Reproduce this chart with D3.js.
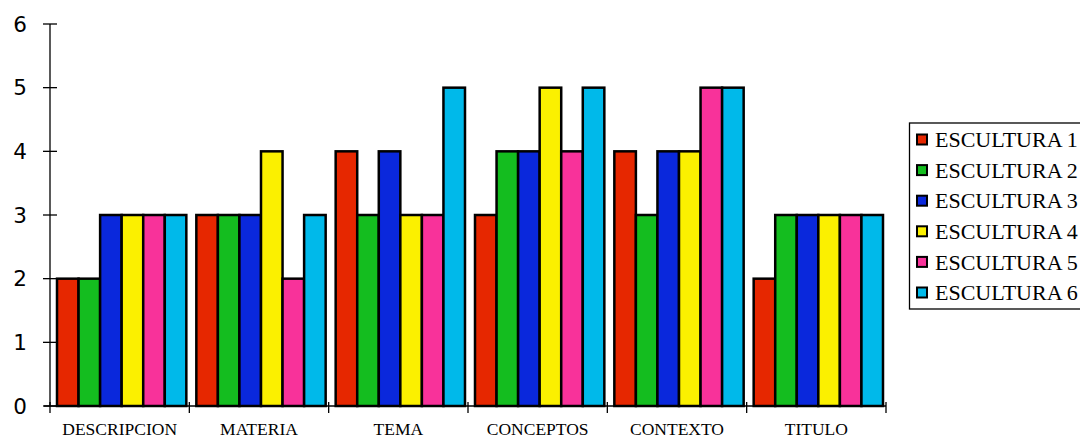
<!DOCTYPE html>
<html><head><meta charset="utf-8">
<script src="https://cdn.jsdelivr.net/npm/d3@7"></script>
<style>body{margin:0;background:#fff}svg{display:block}</style>
</head><body>
<script>
const categories = ["DESCRIPCION","MATERIA","TEMA","CONCEPTOS","CONTEXTO","TITULO"];
const seriesNames = ["ESCULTURA 1","ESCULTURA 2","ESCULTURA 3","ESCULTURA 4","ESCULTURA 5","ESCULTURA 6"];
const escultura1 = [2,3,4,3,4,2];
const escultura2 = [2,3,3,4,3,3];
const escultura3 = [3,3,4,4,4,3];
const escultura4 = [3,4,3,5,4,3];
const escultura5 = [3,2,3,4,5,3];
const escultura6 = [3,3,5,5,5,3];
const yTicks = [0,1,2,3,4,5,6];
const colors = ["#e62700","#14bd1f","#0a28dc","#fbf000","#f8329a","#00b9ea"];

const series = [escultura1,escultura2,escultura3,escultura4,escultura5,escultura6];
const W=1080,H=441;
const svg=d3.select("body").append("svg").attr("width",W).attr("height",H);
const x0=d3.scaleBand().domain(categories).range([50,886]).padding(0);
const x1=d3.scaleBand().domain(d3.range(6)).range([7,x0.bandwidth()-3]).padding(0);
const y=d3.scaleLinear().domain([0,6]).range([406,24]);

categories.forEach((c,ci)=>{
  const g=svg.append("g").attr("transform",`translate(${x0(c)},0)`);
  series.forEach((s,si)=>{
    g.append("rect").attr("x",x1(si)).attr("y",y(s[ci])).attr("width",x1.bandwidth()).attr("height",y(0)-y(s[ci]))
     .attr("fill",colors[si]).attr("stroke","#000").attr("stroke-width",2.5);
  });
});

const ya=svg.append("g").attr("transform","translate(50,0)");
ya.append("line").attr("x1",0).attr("x2",0).attr("y1",y(6)).attr("y2",y(0)).attr("stroke","#000").attr("stroke-width",1.3);
yTicks.forEach(t=>{
  ya.append("line").attr("x1",-7).attr("x2",7).attr("y1",y(t)).attr("y2",y(t)).attr("stroke","#000").attr("stroke-width",1.3);
  ya.append("text").attr("x",-30).attr("y",y(t)).attr("dy","0.36em").attr("text-anchor","middle")
    .attr("font-family","DejaVu Sans, sans-serif").attr("font-size",21.5).text(t);
});
svg.append("line").attr("x1",44).attr("x2",886).attr("y1",y(0)).attr("y2",y(0)).attr("stroke","#000").attr("stroke-width",1.3);
categories.concat([null]).forEach((c,i)=>{
  const xx = c===null ? x0.range()[1] : x0(c);
  svg.append("line").attr("x1",xx).attr("x2",xx).attr("y1",y(0)-4).attr("y2",y(0)+7).attr("stroke","#000").attr("stroke-width",1.3);
});
categories.forEach(c=>{
  svg.append("text").attr("x",x0(c)+x0.bandwidth()/2).attr("y",435).attr("text-anchor","middle")
    .attr("font-family","Liberation Serif, serif").attr("font-size",17.5).text(c);
});

const lg=svg.append("g");
lg.append("rect").attr("x",909.5).attr("y",123).attr("width",200).attr("height",186).attr("fill","none").attr("stroke","#000").attr("stroke-width",1.3);
seriesNames.forEach((n,i)=>{
  const yy=139.5+i*30.6;
  lg.append("rect").attr("x",917).attr("y",yy-5).attr("width",10).attr("height",10).attr("fill",colors[i]).attr("stroke","#000").attr("stroke-width",2);
  lg.append("text").attr("x",935).attr("y",yy).attr("dy","0.35em").attr("font-family","Liberation Serif, serif").attr("font-size",22).text(n);
});
</script>
</body></html>
